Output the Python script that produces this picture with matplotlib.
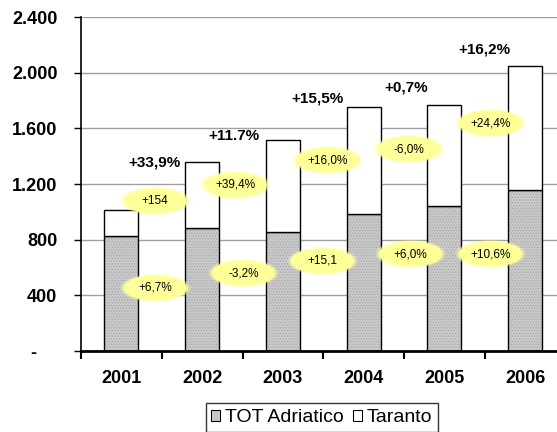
import matplotlib
matplotlib.use("Agg")
import matplotlib.pyplot as plt
from matplotlib.patches import Ellipse, Patch
from matplotlib.ticker import FixedLocator

plt.rcParams['font.family'] = ['Liberation Sans', 'DejaVu Sans']
plt.rcParams['hatch.linewidth'] = 0.6

# dati
anni = ["2001", "2002", "2003", "2004", "2005", "2006"]
adriatico = [828, 883, 855, 984, 1043, 1154]
taranto = [187, 476, 663, 769, 722, 897]

# variazioni sul totale (sopra le barre)
var_tot = ["+33,9%", "+11.7%", "+15,5%", "+0,7%", "+16,2%"]
var_tot_x = [0.41, 1.39, 2.43, 3.53, 4.50]
var_tot_y = [1351, 1545, 1818, 1897, 2170]

# variazioni Taranto (ovali in alto)
var_tar = ["+154", "+39,4%", "+16,0%", "-6,0%", "+24,4%"]
var_tar_x = [0.42, 1.41, 2.55, 3.56, 4.57]
var_tar_y = [1078, 1193, 1372, 1451, 1638]

# variazioni Adriatico (ovali in basso)
var_adr = ["+6,7%", "-3,2%", "+15,1", "+6,0%", "+10,6%"]
var_adr_x = [0.42, 1.51, 2.49, 3.58, 4.57]
var_adr_y = [453, 560, 647, 697, 697]

fig = plt.figure(figsize=(5.57, 4.32), dpi=100)
ax = fig.add_axes([0.1454, 0.1875, 0.870, 0.7731])

x = list(range(len(anni)))
w = 0.42
ax.bar(x, adriatico, w, color="#c9c9c9", hatch="......", edgecolor="#a9a9a9",
       linewidth=0, zorder=2)
ax.bar(x, adriatico, w, facecolor="none", edgecolor="black", linewidth=1, zorder=3)
ax.bar(x, taranto, w, bottom=adriatico, color="white", edgecolor="black",
       linewidth=1, zorder=3)

ax.set_xlim(-0.5, len(anni) - 0.5)
ax.set_ylim(0, 2400)

# assi stile Excel
ax.spines['top'].set_visible(False)
ax.spines['right'].set_visible(False)
ax.spines['left'].set_linewidth(1.2)
ax.spines['bottom'].set_linewidth(2)
ax.set_axisbelow(True)
ax.yaxis.grid(True, color="#a0a0a0", linewidth=1)

yt = [0, 400, 800, 1200, 1600, 2000, 2400]
ax.set_yticks(yt)
ax.set_yticklabels(["-    "] + [f"{v:,}".replace(",", ".") for v in yt[1:]],
                   fontsize=13, fontweight="bold")
ax.tick_params(axis='y', length=5, width=1, pad=12)

ax.xaxis.set_major_locator(FixedLocator([i - 0.5 for i in range(len(anni) + 1)]))
ax.xaxis.set_minor_locator(FixedLocator(x))
ax.xaxis.set_major_formatter(plt.NullFormatter())
ax.set_xticks(x, minor=True)
ax.set_xticklabels(anni, minor=True, fontsize=13, fontweight="bold")
ax.tick_params(axis='x', which='major', length=6, width=1.5, direction='out')
ax.tick_params(axis='x', which='minor', length=0, pad=14)

for t, xx, yy in zip(var_tot, var_tot_x, var_tot_y):
    ax.text(xx, yy, t, ha="center", va="center", fontsize=11, fontweight="bold", zorder=6)

def ovale(xx, yy, testo):
    # alone sfumato + ovale giallo
    for k, a in [(1.12, 0.25), (1.06, 0.5)]:
        ax.add_patch(Ellipse((xx, yy), 0.78 * k, 180 * k, facecolor="#ffff99",
                             edgecolor="none", alpha=a, zorder=4))
    ax.add_patch(Ellipse((xx, yy), 0.78, 180, facecolor="#ffff99",
                         edgecolor="none", zorder=4))
    ax.text(xx, yy, testo, ha="center", va="center", fontsize=8.5, zorder=5)

for t, xx, yy in zip(var_tar, var_tar_x, var_tar_y):
    ovale(xx, yy, t)
for t, xx, yy in zip(var_adr, var_adr_x, var_adr_y):
    ovale(xx, yy, t)

handles = [Patch(facecolor="#c9c9c9", edgecolor="black", linewidth=0.8),
           Patch(facecolor="white", edgecolor="black", linewidth=0.8)]
leg = fig.legend(handles, ["TOT Adriatico", "Taranto"], loc="upper center",
                 bbox_to_anchor=(0.578, 0.066), ncol=2, fontsize=14, frameon=True,
                 fancybox=False, handlelength=0.45, handleheight=0.45,
                 handletextpad=0.25, columnspacing=0.5, borderpad=0.3,
                 borderaxespad=0)
leg.get_frame().set_edgecolor("black")
leg.get_frame().set_linewidth(1)

fig.savefig("out.png", dpi=100)
